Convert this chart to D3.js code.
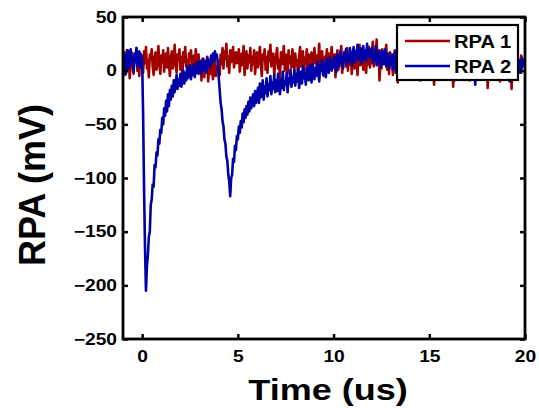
<!DOCTYPE html>
<html>
<head>
<meta charset="utf-8">
<script src="https://cdn.jsdelivr.net/npm/d3@7"></script>
<style>
  html, body { margin: 0; padding: 0; background: #fff; }
  svg { display: block; }
  text { font-family: "Liberation Sans", Arial, Helvetica, sans-serif; font-weight: bold; fill: #000; }
</style>
</head>
<body>
<svg id="chart" width="539" height="408"></svg>
<script>
// Sampling grid of the recordings (microseconds)
const tStart = -1;
const tStep = 0.05;

// Retarding potential analyser signals, mV, one value per sample (20 samples per microsecond)
const rpa1 = [
  3, 15, -4, 10, 19, 1, 12, -7, 8, 17, 5, -3, 14, 9, 21, 0, 11, -5, 16, 6,
  13, -2, 18, 7, 22, 2, 10, -6, 15, 11, 20, 4, -4, 12, 17, 1, 9, 23, 5, -3,
  14, 8, 19, -1, 11, 16, 3, 21, 7, -5, 12, 18, 2, 9, 24, 6, -2, 15, 10, 20,
  1, 13, -6, 17, 8, 22, 4, 10, -3, 16, 12, 19, 0, 7, 14, -4, 20, 9, 3, 15,
  -2, 8, -9, 11, 3, -6, 9, 1, 13, -10, 5, -3, 10, 2, -8, 7, 12, -5, 4, 0,
  9, -4, 15, 6, 21, 2, 18, 11, 25, 4, 13, -2, 19, 8, 14, 22, 3, 10, 17, 7,
  12, 20, -1, 9, 16, 5, 23, -4, 11, 18, 2, 14, 8, 21, 0, 13, 6, 19, -3, 10,
  17, 3, 12, 22, 7, -5, 15, 10, 20, 1, 13, -2, 18, 9, 24, 4, 11, 16, -4, 8,
  14, 21, 2, 10, -6, 17, 6, 12, 23, 0, 9, 15, -3, 19, 7, 13, 3, 20, 11, -1,
  16, 5, 10, -7, 13, 22, 4, 9, 18, -2, 12, 6, 20, 1, 15, -4, 11, 17, 3, 8,
  21, 7, 14, -3, 10, 25, 2, 12, 18, 6, -5, 13, 9, 20, 0, 16, 4, 11, 22, 8,
  3, 15, -6, 10, 19, 1, 12, 7, 23, -2, 14, 9, 17, 4, 21, 0, 11, 6, 16, -3,
  13, 20, 2, 9, 17, -4, 12, 24, 5, 10, 15, 1, 19, 8, -2, 14, 6, 22, 3, 11,
  16, 27, 4, 12, 9, 29, 7, 18, -9, 13, 2, 20, 10, 6, 15, 24, 1, 11, -3, 17,
  5, 14, -4, 9, 19, 2, 12, -11, 7, 16, 3, 10, 21, -2, 13, 6, -7, 11, 17, 4,
  9, -6, 14, 2, 18, 7, -2, 12, 16, 0, 10, -9, 13, 5, 20, 3, 8, -4, 15, 6,
  11, -3, 16, 4, 9, -13, 7, 14, 1, 12, -5, 10, 18, 2, 8, -1, 13, 5, 15, 0,
  -7, 9, 3, 14, 8, -15, 6, 11, 1, 16, -3, 10, 4, 13, -8, 7, 12, 2, 9, 5,
  15, 1, -9, 10, 6, 13, -3, 8, 17, 2, 11, -5, 14, 4, 9, -1, 12, 6, 16, 3,
  8, -16, 10, 5, 14, 0, 11, -6, 16, 3, 9, -2, 13, 7, -10, 11, 4, 15, 1, 8,
  -8, 10, 4, 14, -1, 9, -17, 7, 12, 2, 11, -4, 13, 5, 9, -2, 14, 3, 10, 6,
  5
];

const rpa2 = [
  5, 17, 9, -3, 14, 19, 2, 11, 20, 6, 13, -1, 16, 8, 21, 4, 12, 18, 3, 15,
  10, -40, -110, -165, -205, -182, -172, -155, -150, -125, -120, -106, -108, -88, -90, -76, -79, -64, -68, -55,
  -58, -44, -50, -35, -42, -28, -38, -22, -33, -18, -27, -14, -24, -9, -20, -12, -4, -17, -8, -14,
  -3, -15, -6, 0, -12, -2, -9, 4, -7, -1, 5, -8, 1, -4, 6, -6, 3, -2, 8, -3,
  2, 9, -3, 6, 11, 1, 8, -2, 12, 5, 10, 3, 14, 7, 16, 9, 18, 12, 15, 8,
  -6, -18, -30, -36, -47, -52, -64, -68, -80, -84, -97, -103, -117, -100, -97, -82, -85, -70, -74, -61,
  -64, -52, -58, -47, -53, -40, -48, -36, -44, -33, -41, -29, -38, -25, -35, -27, -22, -33, -19, -30,
  -24, -16, -30, -12, -25, -20, -9, -27, -15, -21, -7, -24, -13, -18, -5, -22, -11, -17, -4, -20,
  -9, -19, -3, -14, -22, -8, -16, -1, -18, -10, -13, -2, -20, -7, -12, 1, -15, -6, -11, 0,
  -14, -3, -10, 2, -16, -6, -1, -12, 4, -7, -3, -13, 3, -5, -9, 5, -2, -11, 6, -4,
  -8, 3, -5, 8, -1, -10, 5, 0, 10, -4, 7, 2, -6, 11, 4, -2, 12, 6, 0, 9,
  3, 13, 7, -1, 15, 9, 4, 18, 8, 12, 2, 17, 11, 20, 6, 14, 9, 21, 13, 5,
  16, 22, 8, 18, 12, 24, 10, 17, 21, 7, 15, 23, 11, 19, 9, 25, 14, 20, 12, 17,
  21, 7, 15, 11, 23, 5, 16, 9, 19, 3, 13, 18, 6, 14, 20, 4, 11, 16, 2, 12,
  8, 15, 1, 11, 17, -2, 9, 13, 4, 16, 7, -3, 12, 5, 18, 9, 2, 14, 6, 10,
  13, 0, 9, 15, -4, 8, 12, 3, 16, 6, -6, 11, 4, 14, 1, 10, 17, -1, 7, 12,
  3, -8, 10, 14, 5, 12, -2, 9, 15, 1, 11, -7, 8, 13, 4, 16, 0, 9, -5, 12,
  6, 14, -3, 10, 2, 13, -9, 7, 11, 4, 15, 0, 9, -4, 12, 5, 14, 1, 8, 11,
  -6, 9, 13, 3, 10, -1, 14, 6, -13, 8, 12, 2, 15, 5, 9, -3, 11, 7, 13, 4,
  10, -2, 14, 6, -8, 11, 3, 15, 0, 9, 12, -4, 8, 13, 2, 10, -6, 14, 5, 9,
  12, -1, 8, 14, -10, 6, 11, 3, 13, -3, 9, 5, 15, 1, 10, 7, -2, 12, 4, 8,
  6
];

const seriesNames = ["RPA 1", "RPA 2"];
const seriesColors = ["#a00000", "#0000a8"];
const xTicks = [0, 5, 10, 15, 20];
const yTicks = [-250, -200, -150, -100, -50, 0, 50];

const svg = d3.select("#chart");
const plotLeft = 123, plotRight = 525, plotTop = 17, plotBottom = 339;
const stretch = 1.2; // glyphs are set slightly wide

const x = d3.scaleLinear().domain([-1, 20]).range([plotLeft, plotRight]);
const y = d3.scaleLinear().domain([-250, 50]).range([plotBottom, plotTop]);

svg.append("defs").append("clipPath").attr("id", "plotArea")
  .append("rect").attr("x", plotLeft).attr("y", plotTop)
  .attr("width", plotRight - plotLeft).attr("height", plotBottom - plotTop);

// Traces
const line = d3.line()
  .x((d, i) => x(tStart + i * tStep))
  .y(d => y(d));

const traces = svg.append("g").attr("clip-path", "url(#plotArea)");
[rpa1, rpa2].forEach((vals, k) => {
  traces.append("path")
    .datum(vals)
    .attr("d", line)
    .attr("fill", "none")
    .attr("stroke", seriesColors[k])
    .attr("stroke-width", 2.6)
    .attr("stroke-linejoin", "round");
});

// Axes with inward ticks on all four sides
const tickLen = 5;
const fontSize = 16;

const xAxis = svg.append("g").attr("transform", `translate(0,${plotBottom})`)
  .call(d3.axisBottom(x).tickValues(xTicks).tickSize(-tickLen).tickPadding(11.6).tickFormat(d3.format("d")));
const yAxis = svg.append("g").attr("transform", `translate(${plotLeft},0)`)
  .call(d3.axisLeft(y).tickValues(yTicks).tickSize(-tickLen).tickPadding(6)
    .tickFormat(d => d < 0 ? "\u2212" + Math.abs(d) : String(d)));
svg.append("g").attr("transform", `translate(0,${plotTop})`)
  .call(d3.axisTop(x).tickValues(xTicks).tickSize(-tickLen).tickFormat(""));
svg.append("g").attr("transform", `translate(${plotRight},0)`)
  .call(d3.axisRight(y).tickValues(yTicks).tickSize(-tickLen).tickFormat(""));

svg.selectAll(".domain").remove();
svg.selectAll(".tick line").attr("stroke", "#000").attr("stroke-width", 2.5);
[xAxis, yAxis].forEach(a => a.selectAll("text")
  .attr("font-size", fontSize)
  .style("font-family", "'Liberation Sans', Arial, sans-serif")
  .style("font-weight", "bold")
  .attr("fill", "#000"));
xAxis.selectAll("text").attr("transform", `scale(${stretch},1)`);
yAxis.selectAll("text").attr("x", -6 / stretch).attr("transform", `scale(${stretch},1)`);

// Axes box
svg.append("rect")
  .attr("x", plotLeft).attr("y", plotTop)
  .attr("width", plotRight - plotLeft).attr("height", plotBottom - plotTop)
  .attr("fill", "none").attr("stroke", "#000").attr("stroke-width", 2.8);

// Axis titles
svg.append("text")
  .attr("transform", `translate(328,400) scale(${stretch},1)`)
  .attr("text-anchor", "middle")
  .attr("font-size", 30)
  .text("Time (us)");

svg.append("text")
  .attr("transform", `translate(45,185) rotate(-90) scale(1,1.05)`)
  .attr("text-anchor", "middle")
  .attr("font-size", 36)
  .text("RPA (mV)");

// Legend
const lg = svg.append("g");
lg.append("rect")
  .attr("x", 397).attr("y", 25).attr("width", 121).attr("height", 55)
  .attr("fill", "#fff").attr("stroke", "#000").attr("stroke-width", 2.2);
seriesNames.forEach((name, k) => {
  const ly = 41 + k * 25;
  lg.append("line")
    .attr("x1", 405).attr("x2", 450).attr("y1", ly).attr("y2", ly)
    .attr("stroke", seriesColors[k]).attr("stroke-width", 2.6);
  lg.append("text")
    .attr("transform", `translate(454,${ly + 6.5}) scale(1.12,1)`)
    .attr("font-size", 18)
    .text(name);
});
</script>
</body>
</html>
